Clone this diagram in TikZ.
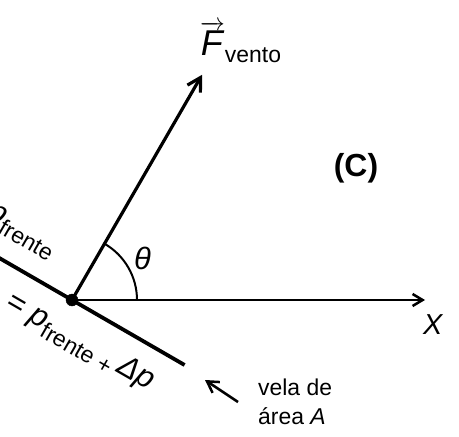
\documentclass[tikz,border=0pt]{standalone}
\usepackage{amsmath}
\usepackage{fontspec}
\setmainfont{Liberation Sans}
\usetikzlibrary{positioning,arrows.meta,calc}

\begin{document}
\begin{tikzpicture}[x=1bp,y=1bp,
mydot/.style={
  draw,
  circle,
  fill=black,
  inner sep=0pt,
  minimum size=12bp},
lbl/.style={
  inner sep=0pt}
]
\useasboundingbox (0,0) rectangle (459,-437);
\clip (0,0) rectangle (459,-437);
\coordinate (O) at (72,-300);
% sail, axis and force
\draw[line width=3.8bp]
  ($ (O)+(150:110) $) coordinate (S1) --
  ($ (O)+(-30:130) $) coordinate (S2);
\draw[line width=2.5bp,-{Straight Barb[length=10bp,width=12bp]}]
  (O) -- (425,-300) coordinate (Xend);
\draw[line width=3.2bp,-{Straight Barb[length=13bp,width=15bp]}]
  (O) -- ($ (O)+(60:260) $) coordinate (Ftip);
\draw[line width=2bp] ($ (O)+(65,0) $) arc [start angle=0,end angle=60,radius=65];
\node[mydot] at (O) {};
% labels
\node[lbl,above right=30bp and 62bp of O,font=\fontsize{31}{31}\selectfont] (theta) {\textit{θ}};
\node[lbl,below right=14bp and -2bp of Xend,font=\fontsize{29}{29}\selectfont] (X) {\textit{X}};
\node[lbl,above right=12bp and -2bp of Ftip,font=\fontsize{36}{36}\selectfont] (F)
  {$\overrightarrow{\text{\textit{F}}}$\fontsize{23}{23}\selectfont\raisebox{-7bp}{vento}};
\node[lbl,font=\bfseries\fontsize{32}{32}\selectfont] (C) at (356,-168) {(C)};
\node[lbl,rotate=-30,font=\fontsize{31}{31}\selectfont] (pf) at (21,-232)
  {\textit{p}\fontsize{23}{23}\selectfont\raisebox{-8bp}{frente}};
\node[lbl,rotate=-30,font=\fontsize{31}{31}\selectfont] (pt) at (80,-343)
  {= \textit{p}\fontsize{23}{23}\selectfont\raisebox{-8bp}{frente + }\fontsize{31}{31}\selectfont\textit{Δp}};
\node[lbl,align=left,anchor=west,font=\fontsize{23}{29}\selectfont] (vela) at (258,-402)
  {vela de\\área \textit{A}};
\coordinate (Atip) at (205,-380);
\draw[line width=2.5bp,-{Straight Barb[length=11bp,width=13bp]}]
  ([xshift=-20bp]vela.west) -- (Atip);
\end{tikzpicture}
\end{document}
